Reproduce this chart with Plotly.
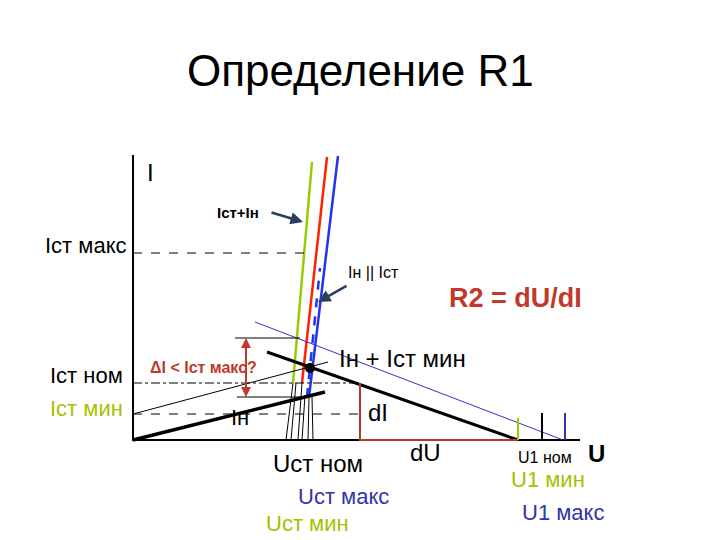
import plotly.graph_objects as go

# Diagram coordinates (pixel-like units, y downward)
axis_x = [133, 133, 580]
axis_y = [155, 440, 440]

green_x = [293, 312]; green_y = [383, 162]
red_x = [302, 327]; red_y = [383, 157]
blue_x = [309, 338]; blue_y = [397, 156]
blue_dash_x = [307, 320]; blue_dash_y = [397, 268]

load_x = [133, 325]; load_y = [440, 392]
thin_x = [133, 328]; thin_y = [414, 362]
r2_x = [267, 518]; r2_y = [352, 440]
blue_thin_x = [255, 563]; blue_thin_y = [322, 440]

drops = [(293, 383, 286, 440), (296, 383, 291, 440), (302, 383, 298, 440),
         (305, 395, 302, 440), (309, 397, 308, 440), (312, 397, 313, 440)]

fig = go.Figure()

def line(x, y, color="black", width=1, dash=None):
    fig.add_trace(go.Scatter(x=x, y=y, mode="lines", hoverinfo="skip",
                             line=dict(color=color, width=width, dash=dash)))

line(axis_x, axis_y, width=2)
line(green_x, green_y, "#99cc00", 2.5)
line(red_x, red_y, "#ff2200", 2.5)
line(blue_x, blue_y, "#2233ee", 2.5)
line(blue_dash_x, blue_dash_y, "#2233ee", 2.5, "dash")
line([133, 305], [253, 253], dash="dash")
line([133, 360], [383, 383], dash="dashdot")
line([133, 360], [414, 414], dash="dash")
line(load_x, load_y, width=3.5)
line(thin_x, thin_y, width=1)
line(r2_x, r2_y, width=3)
line(blue_thin_x, blue_thin_y, "#3333cc", 1)
line([235, 300], [338, 338])
line([237, 305], [397, 397])
line([360, 360, 518], [383, 440, 440], "#b03a2e", 2)
line([518, 518], [418, 440], "#99cc00", 2)
line([542, 542], [413, 440], "black", 2)
line([565, 565], [413, 440], "#3333aa", 2)
for x0, y0, x1, y1 in drops:
    line([x0, x1], [y0, y1], width=1)
fig.add_trace(go.Scatter(x=[310], y=[368], mode="markers", hoverinfo="skip",
                         marker=dict(color="black", size=10)))

ann = []
def text(x, y, t, size=20, color="black", bold=False, anchor="center"):
    ann.append(dict(x=x, y=y, text=f"<b>{t}</b>" if bold else t, showarrow=False,
                    xanchor=anchor, font=dict(size=size, color=color)))

text(360, 70, "Определение R1", 44)
text(150, 172, "I", 24)
text(238, 212, "Iст+Iн", 15, bold=True)
text(86, 245, "Iст макс", 22)
text(373, 272, "Iн || Iст", 16)
text(515, 298, "R2 = dU/dI", 27, "#c0392b", bold=True)
text(86, 375, "Iст ном", 22)
text(86, 408, "Iст мин", 22, "#a8c000")
text(203, 367, "ΔI < Iст макс?", 16, "#c0392b", bold=True)
text(402, 358, "Iн + Iст мин", 24)
text(240, 417, "Iн", 22)
text(378, 412, "dI", 24)
text(425, 452, "dU", 24)
text(318, 463, "Uст ном", 24)
text(343, 496, "Uст макс", 22, "#3333aa")
text(307, 523, "Uст мин", 22, "#a8c000")
text(545, 457, "U1 ном", 16)
text(596, 453, "U", 24, bold=True)
text(548, 479, "U1 мин", 22, "#a8c000")
text(563, 512, "U1 макс", 22, "#3333aa")

arrows = [(270, 212, 303, 222), (348, 285, 318, 302)]
for x0, y0, x1, y1 in arrows:
    ann.append(dict(x=x1, y=y1, ax=x0, ay=y0, axref="x", ayref="y", showarrow=True,
                    arrowhead=2, arrowwidth=2.5, arrowsize=1, text=""))
for y0, y1 in [(338, 397), (397, 338)]:
    ann.append(dict(x=246, y=y1, ax=246, ay=y0, axref="x", ayref="y", showarrow=True,
                    arrowhead=2, arrowwidth=2, arrowcolor="#c0392b", text=""))

fig.update_layout(width=720, height=540, margin=dict(l=0, r=0, t=0, b=0),
                  plot_bgcolor="white", paper_bgcolor="white", showlegend=False,
                  font=dict(family="Liberation Sans, Arial"), annotations=ann,
                  xaxis=dict(range=[8, 728], visible=False),
                  yaxis=dict(range=[548, 8], visible=False))
fig.write_html("out.html", config={"responsive": False})
